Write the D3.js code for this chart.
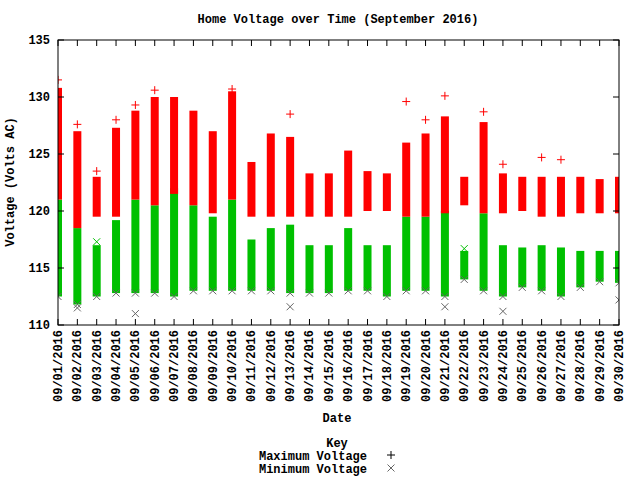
<!DOCTYPE html><html><head><meta charset="utf-8">
<script src="https://d3js.org/d3.v7.min.js"></script>
<style>body{margin:0;background:#fff}text{font-family:"Liberation Mono","DejaVu Sans Mono",monospace;font-size:12px;font-weight:bold}</style>
</head><body><svg id="c" width="640" height="480"></svg><script>
const days=d3.range(1,31).map(d=>"09/"+String(d).padStart(2,"0")+"/2016");
const maxTop=[130.8,127,123,127.3,128.8,130,130,128.8,127,130.5,124.3,126.8,126.5,123.3,123.3,125.3,123.5,123.3,126,126.8,128.3,123,127.8,123.3,123,123,123,123,122.8,123];
const maxBot=[121,118.5,119.5,119.5,121,120.5,121.5,120.5,119.8,121,119.5,119.5,119.5,119.5,119.5,119.5,120,120,119.5,119.5,119.8,120.5,119.8,119.8,120,119.5,119.5,119.8,119.8,119.8];
const minTop=[121,118.5,117,119.2,121,120.5,122,120.5,119.5,121,117.5,118.5,118.8,117,117,118.5,117,117,119.5,119.5,120,116.5,119.8,117,116.8,117,116.8,116.5,116.5,116.5];
const minBot=[112.5,111.8,112.5,112.8,112.8,112.8,112.5,113,113,113,113,113,112.8,112.8,112.8,113,113,112.5,113,113,112.5,114,113,112.5,113.3,113,112.5,113.3,113.8,113.7];
const maxOut=[[0,131.5],[1,127.6],[2,123.5],[3,128],[4,129.3],[5,130.6],[9,130.7],[12,128.5],[18,129.6],[19,128],[20,130.1],[22,128.7],[23,124.1],[25,124.7],[26,124.5]];
const minOut=[[1,111.5],[4,111],[12,111.6],[20,111.6],[23,111.2],[29,112.2],[2,117.3],[21,116.7]];
const yTicks=[110,115,120,125,130,135];
const svg=d3.select("#c"),L=58,R=619,T=40,B=325;
const x=d3.scalePoint().domain(d3.range(30)).range([L,R]);
const y=d3.scaleLinear().domain([110,135]).range([B,T]);
svg.append("clipPath").attr("id","cp").append("rect").attr("x",L).attr("y",T-10).attr("width",R-L).attr("height",B-T+10);
const g=svg.append("g").attr("clip-path","url(#cp)");
const red="#ff0000",green="#00c000",w=8;
g.selectAll(".mn").data(d3.range(30)).join("rect").attr("x",i=>x(i)-w/2).attr("width",w)
 .attr("y",i=>y(minTop[i])).attr("height",i=>y(minBot[i])-y(minTop[i])).attr("fill",green);
function cross(px,py,c,p){(p||g).append("path").attr("d",`M${px-3.5},${py-3.5}L${px+3.5},${py+3.5}M${px-3.5},${py+3.5}L${px+3.5},${py-3.5}`).attr("stroke",c).attr("stroke-width",1);}
function plus(px,py,c,p){(p||g).append("path").attr("d",`M${px-4},${py}H${px+4}M${px},${py-4}V${py+4}`).attr("stroke",c).attr("stroke-width",1);}
d3.range(30).forEach(i=>cross(x(i),y(minBot[i]),"#666"));
minOut.forEach(([i,v])=>cross(x(i),y(v),v<minBot[i]?"#666":green));
g.selectAll(".mx").data(d3.range(30)).join("rect").attr("x",i=>x(i)-w/2).attr("width",w)
 .attr("y",i=>y(maxTop[i])).attr("height",i=>y(maxBot[i])-y(maxTop[i])).attr("fill",red);
maxOut.forEach(([i,v])=>plus(x(i),y(v),red));
svg.append("rect").attr("x",L).attr("y",T).attr("width",R-L).attr("height",B-T).attr("fill","none").attr("stroke","#000");
yTicks.forEach(v=>{svg.append("path").attr("d",`M${L},${y(v)}h6M${R},${y(v)}h-6`).attr("stroke","#000");
 svg.append("text").attr("x",L-8).attr("y",y(v)+4).attr("text-anchor","end").text(v);});
days.forEach((d,i)=>{svg.append("path").attr("d",`M${x(i)},${B}v-6M${x(i)},${T}v6`).attr("stroke","#000");
 svg.append("text").attr("transform",`translate(${x(i)+4},${B+5}) rotate(-90)`).attr("text-anchor","end").text(d);});
svg.append("text").attr("x",338).attr("y",23).attr("text-anchor","middle").text("Home Voltage over Time (September 2016)");
svg.append("text").attr("transform","translate(14,182) rotate(-90)").attr("text-anchor","middle").text("Voltage (Volts AC)");
svg.append("text").attr("x",337).attr("y",422).attr("text-anchor","middle").text("Date");
svg.append("text").attr("x",337).attr("y",447).attr("text-anchor","middle").text("Key");
svg.append("text").attr("x",367).attr("y",460).attr("text-anchor","end").text("Maximum Voltage");
svg.append("text").attr("x",367).attr("y",473).attr("text-anchor","end").text("Minimum Voltage");
plus(391,455,"#000",svg);cross(391,468,"#666",svg);
</script></body></html>
